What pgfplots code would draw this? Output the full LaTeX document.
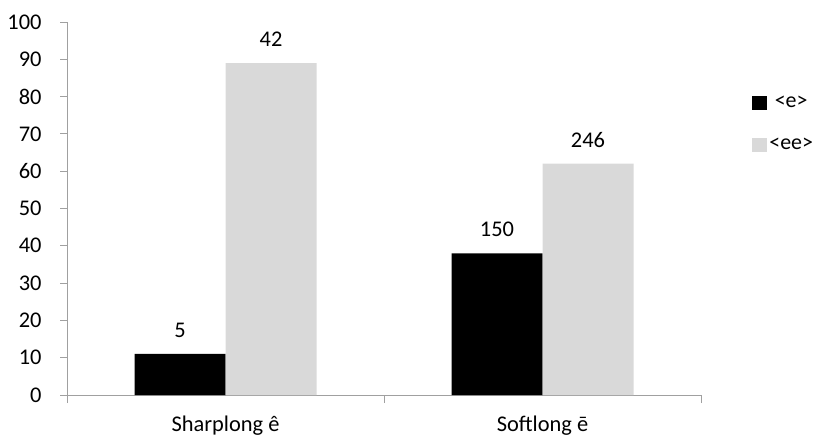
\documentclass[border=0pt]{standalone}
\usepackage{pgfplots}
\pgfplotsset{compat=1.18}
\usepackage{fontspec}
\setmainfont{Carlito}
\definecolor{barg}{RGB}{217,217,217}
\definecolor{axg}{RGB}{160,160,160}
\begin{document}
\begin{tikzpicture}
\begin{axis}[
  scale only axis, width=634bp, height=373bp,
  ymin=0, ymax=100, xmin=-0.5, xmax=1.5,
  axis lines*=left,
  axis line style={axg, line width=0.9bp},
  every tick/.style={axg, line width=0.9bp},
  tick align=outside,
  major tick length=7bp, minor tick length=8bp,
  ytick={0,10,...,100},
  xtick={0,1}, xticklabels={Sharplong ê, Softlong ē},
  major x tick style={draw=none},
  minor xtick={-0.5,0.5,1.5},
  /pgf/number format/assume math mode=true,
  ticklabel style={font=\fontsize{22.5}{26}\selectfont},
  yticklabel style={xshift=-15bp},
  xticklabel style={yshift=-10bp},
  ybar=0pt, bar width=91bp,
  point meta=explicit symbolic,
  nodes near coords,
  nodes near coords style={font=\fontsize{22.5}{26}\selectfont, yshift=13bp},
  legend style={at={(rel axis cs:1.076,0.812)}, anchor=north west, draw=none,
    font=\fontsize{22}{24}\selectfont, row sep=25bp,
    /tikz/every even column/.style={column sep=1bp}},
  legend image code/.code={\fill[#1] (0bp,-7bp) rectangle (15bp,7bp);},
  clip=false,
]
\addplot[fill=black, draw=none] coordinates {(0,11)[5] (1,38)[150]};
\addplot[fill=barg, draw=none] coordinates {(0,89)[42] (1,62)[246]};
\legend{<e>, <ee>}
\end{axis}
\pgfresetboundingbox
\path ([shift={(-67bp,-41bp)}]current axis.south west) rectangle ([shift={(120bp,22bp)}]current axis.north east);
\end{tikzpicture}
\end{document}
